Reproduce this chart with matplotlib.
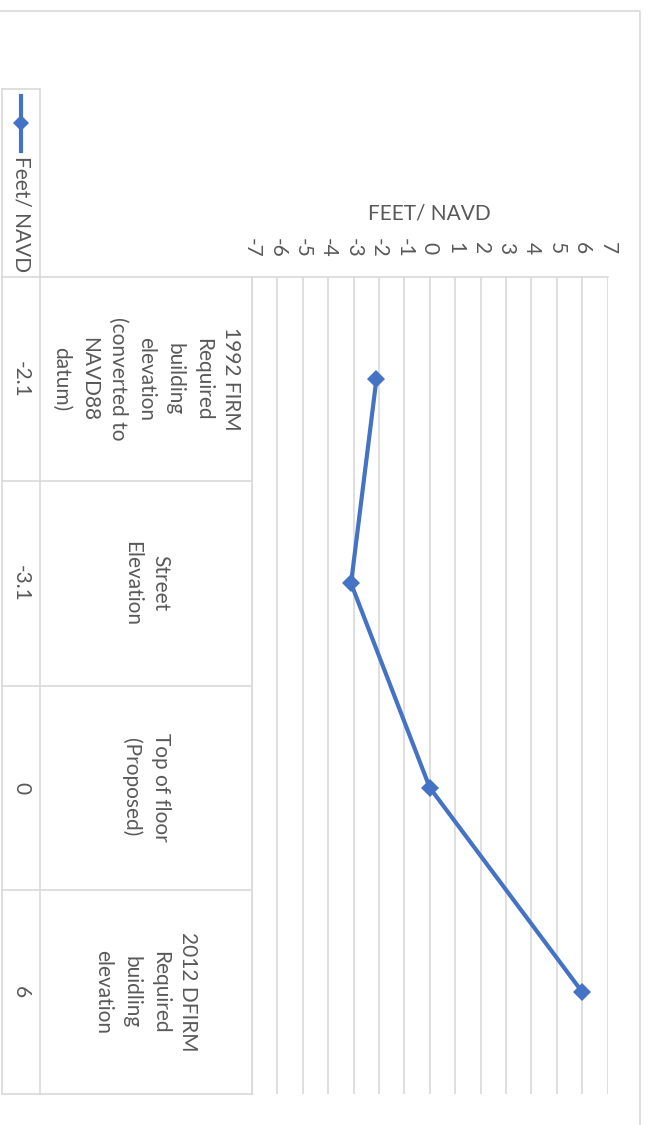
import matplotlib
matplotlib.use('Agg')
import matplotlib.pyplot as plt
from matplotlib.lines import Line2D

# Data (chart is drawn rotated 90 degrees clockwise, like the reference)
categories = [
    "1992 FIRM\nRequired\nbuilding\nelevation\n(converted to\nNAVD88\ndatum)",
    "Street\nElevation",
    "Top of floor\n(Proposed)",
    "2012 DFIRM\nRequired\nbuidling\nelevation",
]
values = [-2.1, -3.1, 0, 6]
value_labels = ["-2.1", "-3.1", "0", "6"]
ticks = list(range(-7, 8))
series_name = "Feet/ NAVD"
axis_title = "FEET/ NAVD"

plt.rcParams.update({
    'font.family': ['Lato', 'DejaVu Sans'],
    'axes.unicode_minus': False,
})

W, H = 648, 1125
TEXT = '#595959'
GRID = '#d9d9d9'
BLUE = '#4472C4'
FS = 15

fig = plt.figure(figsize=(W / 100, H / 100), dpi=100)


def fx(px):
    return px / W


def fy(py):
    return 1 - py / H


# plot area in pixel coords
plot_l, plot_r, top, bottom = 252, 607.5, 277, 1094
n = len(categories)

ax = fig.add_axes([fx(plot_l), fy(bottom), fx(plot_r) - fx(plot_l), fy(top) - fy(bottom)])
ax.set_xlim(-7, 7)
ax.set_ylim(n - 0.5, -0.5)
ax.set_xticks(ticks)
ax.set_xticklabels([str(t) for t in ticks])
ax.set_yticks([])
ax.xaxis.tick_top()
ax.tick_params(axis='x', length=0, pad=21, labelsize=FS, labelcolor=TEXT, labelrotation=-90)
for lab in ax.get_xticklabels():
    lab.set_verticalalignment('center')
ax.grid(axis='x', color=GRID, linewidth=1.2)
for side in ['bottom', 'left', 'right']:
    ax.spines[side].set_visible(False)
ax.spines['top'].set_color(GRID)
ax.spines['top'].set_linewidth(1.2)
ax.set_axisbelow(True)

ax.plot(values, range(n), color=BLUE, linewidth=3, marker='D', markersize=9,
        markeredgewidth=0, clip_on=False)

ax.text(0.5, 1 + (top - 214) / (bottom - top), axis_title, transform=ax.transAxes,
        ha='center', va='center', fontsize=FS, color=TEXT)

# data table on the left
tab = fig.add_axes([fx(2), fy(bottom), fx(plot_l) - fx(2), fy(top) - fy(bottom)])
tab.set_xlim(0, 1)
tab.set_ylim(n - 0.5, -0.5)
tab.axis('off')
sep = (40 - 2) / (plot_l - 2)
for b in [i - 0.5 for i in range(n + 1)]:
    tab.plot([0, 1], [b, b], color=GRID, linewidth=1.2, clip_on=False)
for xv in [0, sep, 1]:
    tab.plot([xv, xv], [-0.5, n - 0.5], color=GRID, linewidth=1.2, clip_on=False)
for i, (cat, vl) in enumerate(zip(categories, value_labels)):
    tab.text((sep + 1) / 2, i, cat, rotation=-90, ha='center', va='center',
             multialignment='center', fontsize=FS, color=TEXT, linespacing=1.52)
    tab.text(sep / 2, i, vl, rotation=-90, ha='center', va='center',
             fontsize=FS, color=TEXT)

# legend cell above the table
for (x0, y0), (x1, y1) in [((2, 89), (2, top)), ((40, 89), (40, top)), ((2, 89), (40, 89))]:
    fig.add_artist(Line2D([fx(x0), fx(x1)], [fy(y0), fy(y1)], color=GRID, linewidth=1.2))
fig.add_artist(Line2D([fx(21), fx(21), fx(21)], [fy(96), fy(123), fy(151)], color=BLUE,
                      linewidth=3, marker='D', markersize=8, markeredgewidth=0, markevery=[1]))
fig.text(fx(21), fy(156), series_name, rotation=-90, ha='center', va='top',
         fontsize=FS, color=TEXT)

# chart border (top and right visible)
fig.add_artist(Line2D([0, fx(640), fx(640)], [fy(11), fy(11), 0], color=GRID, linewidth=1.2))

fig.savefig('out.png', dpi=100)
